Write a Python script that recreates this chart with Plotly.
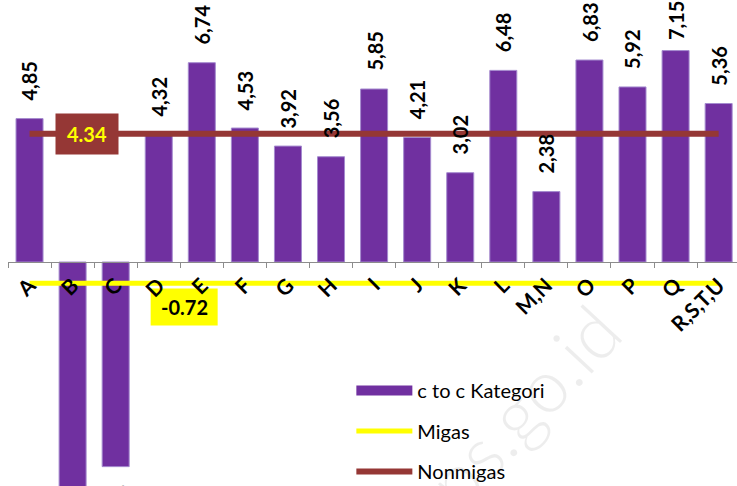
import plotly.graph_objects as go

# Sector categories and growth values (c to c)
categories = ["A", "B", "C", "D", "E", "F", "G", "H", "I", "J", "K", "L",
              "M,N", "O", "P", "Q", "R,S,T,U"]
growth = [4.85, -8.40, -6.92, 4.32, 6.74, 4.53, 3.92, 3.56, 5.85, 4.21,
          3.02, 6.48, 2.38, 6.83, 5.92, 7.15, 5.36]
growth_text = ["4,85", "-8,40", "-6,92", "4,32", "6,74", "4,53", "3,92", "3,56",
               "5,85", "4,21", "3,02", "6,48", "2,38", "6,83", "5,92", "7,15", "5,36"]

# Reference rates drawn as horizontal lines
migas_rate = -0.72
nonmigas_rate = 4.34

PURPLE = "#7030A0"
YELLOW = "#FFFF00"
BROWN = "#953735"
FONT = "Lato"

W, H = 737, 486
y_top = 8.86
y_bottom = -7.575
px_per_unit = H / (y_top - y_bottom)
label_len = 36  # approx. length of a rotated value label in px

fig = go.Figure()

fig.add_trace(go.Bar(
    x=categories, y=growth, name="c to c Kategori",
    marker=dict(color=PURPLE, line=dict(color="#a58bcf", width=1)),
    showlegend=False,
))
# Legend key for the bars: a wide solid swatch
fig.add_trace(go.Scatter(
    x=[None], y=[None], name="c to c Kategori", mode="lines",
    line=dict(color=PURPLE, width=14), legendgroup="g1",
))
fig.add_trace(go.Scatter(
    x=categories, y=[migas_rate] * len(categories), name="Migas",
    mode="lines", line=dict(color=YELLOW, width=5), legendgroup="g2",
))
fig.add_trace(go.Scatter(
    x=categories, y=[nonmigas_rate] * len(categories), name="Nonmigas",
    mode="lines", line=dict(color=BROWN, width=6), legendgroup="g3",
))

# Rotated value labels above / below each bar, kept inside the top edge
annotations = []
for cat, v, t in zip(categories, growth, growth_text):
    if v >= 0:
        room = (y_top - v) * px_per_unit - label_len - 6
        shift = min(16, room)
        annotations.append(dict(
            x=cat, y=v, text=f"<b>{t}</b>", showarrow=False, textangle=-90,
            xanchor="center", yanchor="bottom", yshift=shift,
            font=dict(family=FONT, size=20, color="black"),
        ))
    else:
        annotations.append(dict(
            x=cat, y=v, text=f"<b>{t}</b>", showarrow=False, textangle=-90,
            xanchor="center", yanchor="top", yshift=-16,
            font=dict(family=FONT, size=20, color="black"),
        ))

# Boxed callouts for the two reference rates
annotations.append(dict(
    x=1.33, y=nonmigas_rate, text=f"<b>{nonmigas_rate:.2f}</b>", showarrow=False,
    bgcolor=BROWN, width=60, height=38, xanchor="center", yanchor="middle",
    font=dict(family=FONT, size=20, color=YELLOW),
))
annotations.append(dict(
    x=3.59, y=-1.52, text=f"<b>{migas_rate:.2f}</b>", showarrow=False,
    xanchor="center", yanchor="middle",
    font=dict(family=FONT, size=20, color="black"),
))
# Yellow backing for the Migas callout, beneath the axis labels
shapes = [dict(
    type="rect", layer="below", xref="x", yref="y",
    x0=3.59 - 33.5 / 43.07, x1=3.59 + 33.5 / 43.07,
    y0=-1.52 - 18.5 / px_per_unit, y1=-1.52 + 18.5 / px_per_unit,
    fillcolor=YELLOW, line=dict(width=0),
)]

# Faint site watermark (translucent so text behind it stays visible)
annotations.append(dict(
    x=0.687, y=0.135, xref="paper", yref="paper", text="bps.go.id",
    showarrow=False, textangle=-47, xanchor="center", yanchor="middle",
    font=dict(family=FONT, size=74, color="rgba(0,0,0,0.07)", weight=300),
))

fig.update_layout(
    width=W, height=H,
    margin=dict(l=8, r=0, t=0, b=0, autoexpand=False),
    paper_bgcolor="white", plot_bgcolor="rgba(0,0,0,0)",
    bargap=0.373,
    showlegend=True,
    legend=dict(
        x=0.471, y=-0.0105, xanchor="left", yanchor="bottom",
        font=dict(family=FONT, size=20, color="black"),
        bgcolor="rgba(0,0,0,0)", itemwidth=56, tracegroupgap=11.5,
        traceorder="grouped",
    ),
    xaxis=dict(
        type="category", range=[-0.5, 16.426],
        anchor="free", position=-y_bottom / (y_top - y_bottom),
        showline=True, linecolor="#8c8c8c", linewidth=1,
        ticks="outside", tickson="boundaries", ticklen=5, tickcolor="#8c8c8c",
        tickangle=-45, ticklabelstandoff=2, showgrid=False, zeroline=False,
        automargin=False,
        tickfont=dict(family=FONT, size=21, color="black", weight="bold"),
    ),
    yaxis=dict(
        range=[y_bottom, y_top], visible=False, showgrid=False, zeroline=False,
        automargin=False,
    ),
    shapes=shapes,
    annotations=annotations,
    hovermode=False,
)

fig.write_html("out.html")
